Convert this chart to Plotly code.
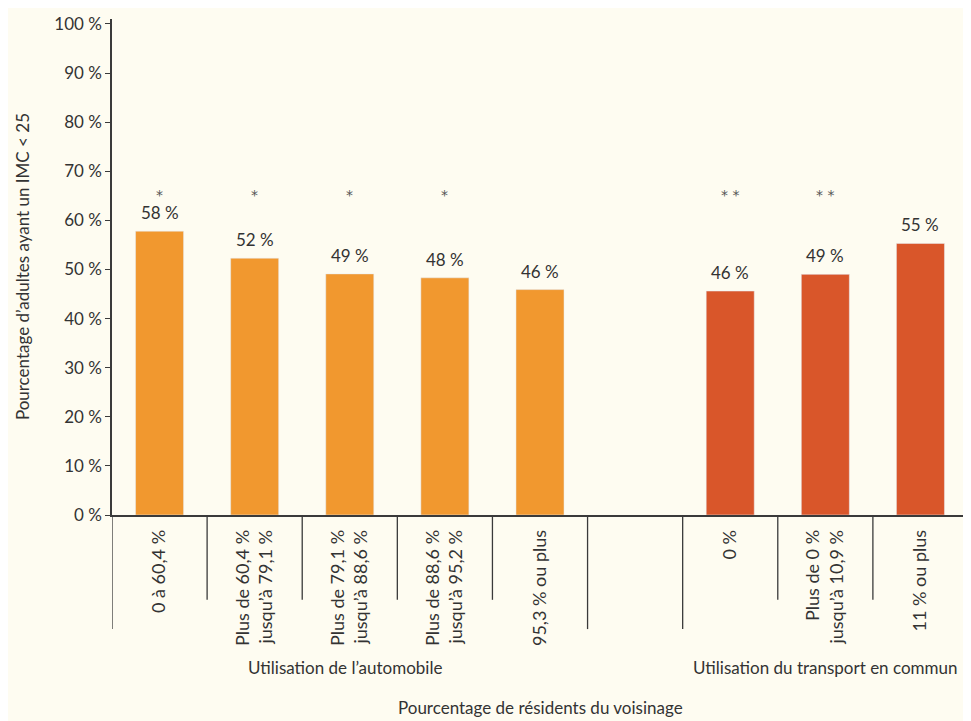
import plotly.graph_objects as go

# ---- data ----
car_labels = ["0 à 60,4 %", "Plus de 60,4 %<br>jusqu’à 79,1 %", "Plus de 79,1 %<br>jusqu’à 88,6 %",
              "Plus de 88,6 %<br>jusqu’à 95,2 %", "95,3 % ou plus"]
car_values = [57.8, 52.3, 49.1, 48.3, 45.9]
car_marks = ["*", "*", "*", "*", ""]

transit_labels = ["0 %", "Plus de 0 %<br>jusqu’à 10,9 %", "11 % ou plus"]
transit_values = [45.6, 49.0, 55.3]
transit_marks = ["* *", "* *", ""]

y_ticks = [0, 10, 20, 30, 40, 50, 60, 70, 80, 90, 100]
y_tick_text = [f"{v} %" for v in y_ticks]

group_titles = ["Utilisation de l’automobile", "Utilisation du transport en commun"]
y_title = "Pourcentage d’adultes ayant un IMC < 25"
x_title = "Pourcentage de résidents du voisinage"

# ---- positions ----
car_x = list(range(len(car_labels)))                 # 0..4
gap_slot = len(car_labels)                           # 5 (empty)
transit_x = [gap_slot + 1 + i for i in range(len(transit_labels))]  # 6..8
n_slots = transit_x[-1] + 1

FONT = "Lato, 'Open Sans', sans-serif"
TXT = "#333333"
BG = "#FEFCF1"
ORANGE = "#F1982F"
RED = "#D9562A"

fig = go.Figure()
fig.add_trace(go.Bar(x=car_x, y=car_values, marker_color=ORANGE, width=0.505,
                     hoverinfo="skip"))
fig.add_trace(go.Bar(x=transit_x, y=transit_values, marker_color=RED, width=0.505,
                     hoverinfo="skip"))

annotations = []
for xs, vals, marks in [(car_x, car_values, car_marks), (transit_x, transit_values, transit_marks)]:
    for x, v, m in zip(xs, vals, marks):
        annotations.append(dict(x=x, y=v, xref="x", yref="y", text=f"{round(v)} %",
                                showarrow=False, yanchor="bottom", yshift=6,
                                font=dict(family=FONT, size=17, color=TXT)))
        if m:
            annotations.append(dict(x=x, y=65.2, xref="x", yref="y", text=m,
                                    showarrow=False, yanchor="middle",
                                    font=dict(family="DejaVu Sans", size=14, color="#555555")))

# group titles
annotations.append(dict(x=(car_x[0] + car_x[-1]) / 2 - 0.05, y=-0.308, xref="x", yref="paper",
                        text=group_titles[0], showarrow=False, yanchor="middle",
                        font=dict(family=FONT, size=17, color=TXT)))
annotations.append(dict(x=(transit_x[0] + transit_x[-1]) / 2, y=-0.308, xref="x", yref="paper",
                        text=group_titles[1], showarrow=False, yanchor="middle",
                        font=dict(family=FONT, size=17, color=TXT)))
annotations.append(dict(x=0.5, y=-0.389, xref="paper", yref="paper", text=x_title,
                        showarrow=False, yanchor="middle",
                        font=dict(family=FONT, size=17, color=TXT)))
annotations.append(dict(x=-0.105, y=0.5, xref="paper", yref="paper", text=y_title,
                        showarrow=False, textangle=-90, xanchor="center", yanchor="middle",
                        font=dict(family=FONT, size=17, color=TXT)))

# separator lines under the x axis
shapes = []
long_bounds = {0, gap_slot, gap_slot + 1, n_slots}
for b in range(n_slots + 1):
    depth = -0.23 if b in long_bounds else -0.171
    shapes.append(dict(type="line", xref="x", yref="paper", x0=b - 0.5, x1=b - 0.5,
                       y0=0, y1=depth, line=dict(color="#3a3a3a", width=1.3)))

fig.update_layout(
    width=963, height=713,
    margin=dict(l=104, r=3, t=11, b=206),
    paper_bgcolor=BG, plot_bgcolor=BG,
    showlegend=False, barmode="overlay",
    font=dict(family=FONT, size=17, color=TXT),
    annotations=annotations, shapes=shapes,
    xaxis=dict(range=[-0.5, n_slots - 0.5], tickmode="array",
               tickvals=car_x + transit_x, ticktext=car_labels + transit_labels,
               tickangle=-90, ticks="", ticklabelstandoff=6,
               showline=True, linecolor="#3a3a3a", linewidth=1.5,
               showgrid=False, zeroline=False,
               tickfont=dict(family=FONT, size=18, color=TXT)),
    yaxis=dict(range=[0, 101], tickmode="array", tickvals=y_ticks, ticktext=y_tick_text,
               ticks="outside", ticklen=5, tickcolor="#3a3a3a", tickwidth=1.3,
               showline=True, linecolor="#3a3a3a", linewidth=1.5,
               showgrid=False, zeroline=False,
               tickfont=dict(family=FONT, size=17, color=TXT)),
)

fig.write_html("out.html")
